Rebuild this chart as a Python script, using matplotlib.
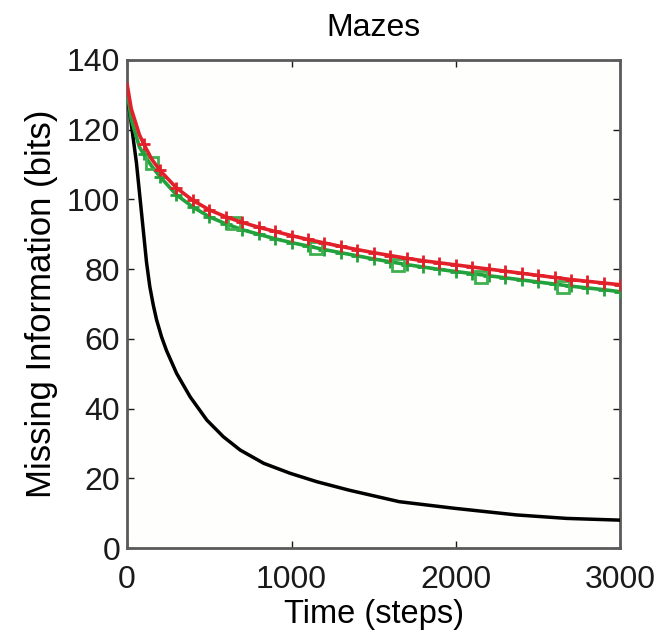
import matplotlib
matplotlib.use("Agg")
import matplotlib.pyplot as plt

plt.rcParams['font.family'] = ['Liberation Sans', 'DejaVu Sans']

title = "Mazes"
xlabel = "Time (steps)"
ylabel = "Missing Information (bits)"
xticks = [0, 1000, 2000, 3000]
yticks = [0, 20, 40, 60, 80, 100, 120, 140]

t_black = [0, 16, 57, 88, 118, 138, 160, 179, 210, 240, 301, 383, 485, 586,
           688, 831, 994, 1156, 1350, 1655, 1991, 2368, 2674, 3000]
v_black = [129, 125, 110.4, 96, 82, 75, 69.5, 65.5, 60.5, 56.6, 50.1, 43.4,
           36.7, 31.9, 28.1, 24.3, 21.4, 19.0, 16.6, 13.3, 11.4, 9.5, 8.5, 8.0]

t_red = [0, 25, 75, 100, 150, 200, 300, 400, 500, 600, 700, 800, 900, 1000,
         1100, 1200, 1300, 1400, 1500, 1600, 1700, 1800, 1900, 2000, 2100,
         2200, 2300, 2400, 2500, 2600, 2700, 2800, 2900, 3000]
v_red = [133, 126, 118.5, 116, 111.5, 108.3, 103.3, 99.7, 97, 95, 93.4, 92,
         90.8, 89.6, 88.5, 87.5, 86.5, 85.6, 84.7, 83.9, 83.1, 82.4, 81.8,
         81.2, 80.6, 80, 79.4, 78.8, 78.2, 77.6, 77, 76.5, 76, 75.5]

t_green = t_red
v_green = [131, 123, 115, 113, 109.5, 106.5, 101.3, 97.8, 95, 93, 91.3, 90,
           88.7, 87.6, 86.6, 85.6, 84.7, 83.8, 82.9, 82.1, 81.3, 80.6, 79.9,
           79.3, 78.7, 78.1, 77.5, 76.9, 76.3, 75.7, 75.1, 74.6, 74.1, 73.5]

t_sq = [150, 650, 1150, 1650, 2150, 2650]
v_sq = [110.4, 93.1, 86, 81.3, 77.8, 75]

fig = plt.figure(figsize=(6.62, 6.44), dpi=100)
ax = fig.add_axes([0.192, 0.149, 0.745, 0.758])
ax.set_facecolor('#fefefc')

mk_idx = [i for i, t in enumerate(t_red) if t % 100 == 0 and t > 0]
ax.plot(t_black, v_black, color='black', lw=2.5, zorder=3)
ax.plot(t_green, v_green, color='#22a23c', lw=2.6, marker='+', ms=9, mew=2.0,
        markevery=mk_idx, zorder=4)
ax.plot(t_sq, v_sq, ls='none', color='#3fb04f', marker='s', ms=8.5, mfc='none',
        mew=2.0, zorder=4)
ax.plot(t_red, v_red, color='#e2202a', lw=2.6, marker='+', ms=9, mew=2.0,
        markevery=mk_idx, zorder=5)

ax.set_xlim(0, 3000)
ax.set_ylim(0, 140)
ax.set_xticks(xticks)
ax.set_yticks(yticks)
ax.tick_params(direction='in', length=5, width=1, top=True, right=True,
               labelsize=23, colors='#1a1a1a')
ax.tick_params(axis='x', pad=12)
ax.tick_params(axis='y', pad=5)
for s in ax.spines.values():
    s.set_linewidth(2.0)
    s.set_color('#5a5a5a')
ax.set_title(title, fontsize=23, pad=17)
ax.set_xlabel(xlabel, fontsize=23.5, labelpad=3)
ax.set_ylabel(ylabel, fontsize=25, labelpad=6)

fig.savefig('out.png', dpi=100)
